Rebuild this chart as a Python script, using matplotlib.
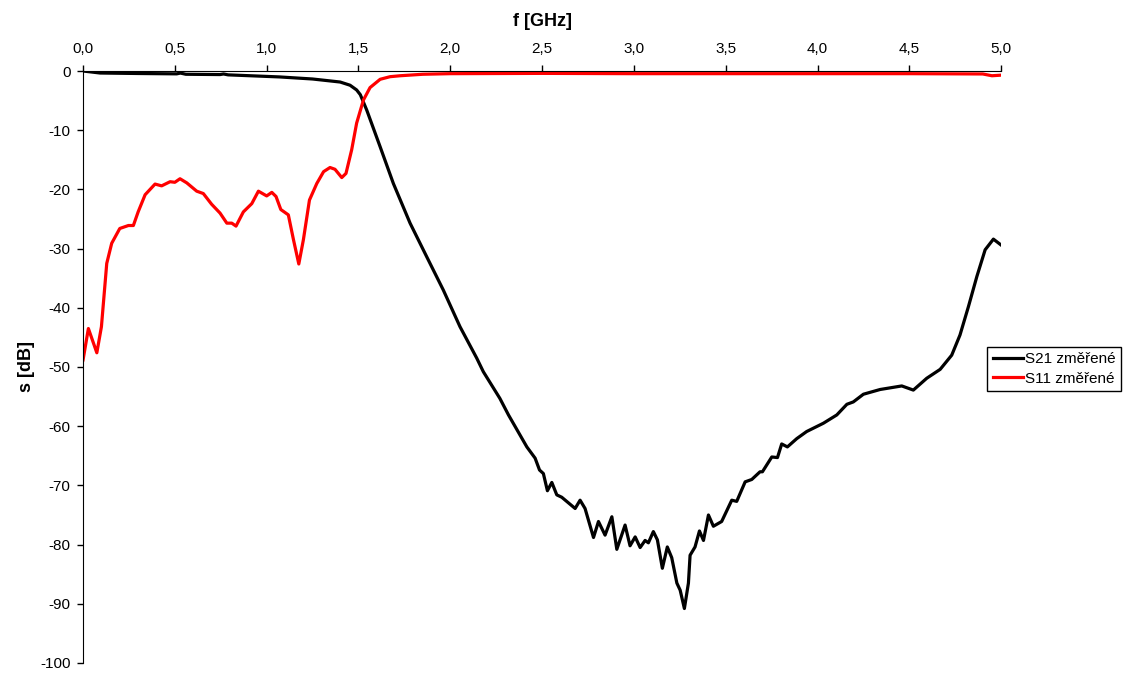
import numpy as np
import matplotlib
matplotlib.use("Agg")
import matplotlib.pyplot as plt

plt.rcParams['font.family'] = ['Liberation Sans', 'DejaVu Sans']
plt.rcParams['axes.unicode_minus'] = False

# S21 (measured) - frequency in GHz, value in dB
s21_f = [0.0, 0.093, 0.3, 0.51, 0.53, 0.56, 0.746, 0.765, 0.79, 1.07, 1.25, 1.40, 1.454, 1.49,
         1.51, 1.545, 1.618, 1.69, 1.781, 1.872, 1.962, 2.053, 2.144, 2.18, 2.27, 2.317, 2.417,
         2.462, 2.486, 2.507, 2.529, 2.553, 2.58, 2.607, 2.68, 2.707, 2.734, 2.78, 2.807, 2.843,
         2.88, 2.907, 2.952, 2.979, 3.007, 3.034, 3.061, 3.079, 3.106, 3.128, 3.155, 3.182,
         3.206, 3.234, 3.252, 3.275, 3.297, 3.306, 3.333, 3.357, 3.379, 3.406, 3.433, 3.478,
         3.533, 3.56, 3.606, 3.642, 3.687, 3.70, 3.751, 3.782, 3.805, 3.836, 3.887, 3.941,
         4.032, 4.105, 4.16, 4.195, 4.25, 4.341, 4.459, 4.522, 4.595, 4.668, 4.731, 4.776,
         4.822, 4.868, 4.913, 4.958, 5.0]
s21_db = [0.0, -0.34, -0.42, -0.48, -0.35, -0.55, -0.6, -0.5, -0.65, -1.0, -1.35, -1.86, -2.4, -3.2,
          -4.0, -6.6, -12.8, -19.0, -25.7, -31.4, -37.0, -43.2, -48.5, -50.8, -55.3, -58.1,
          -63.5, -65.4, -67.4, -68.0, -70.9, -69.5, -71.6, -72.0, -73.9, -72.5, -73.9, -78.8,
          -76.1, -78.4, -75.3, -80.8, -76.7, -80.2, -78.7, -80.5, -79.3, -79.7, -77.8, -79.2,
          -84.0, -80.4, -82.2, -86.5, -87.7, -90.8, -86.5, -81.8, -80.4, -77.7, -79.3, -75.0,
          -76.9, -76.1, -72.5, -72.7, -69.4, -69.0, -67.7, -67.7, -65.2, -65.3, -63.0, -63.5,
          -62.1, -60.9, -59.5, -58.1, -56.3, -55.9, -54.6, -53.8, -53.2, -53.9, -51.9, -50.4,
          -48.0, -44.6, -39.8, -34.7, -30.2, -28.4, -29.4]

# S11 (measured)
s11_f = [0.0, 0.029, 0.075, 0.10, 0.129, 0.156, 0.20, 0.247, 0.274, 0.30, 0.338, 0.392, 0.428,
         0.474, 0.50, 0.528, 0.565, 0.619, 0.655, 0.70, 0.746, 0.783, 0.81, 0.833, 0.873,
         0.919, 0.955, 1.0, 1.028, 1.051, 1.077, 1.118, 1.146, 1.175, 1.20, 1.233, 1.273,
         1.31, 1.345, 1.372, 1.409, 1.432, 1.463, 1.49, 1.527, 1.563, 1.618, 1.672, 1.727,
         1.85, 2.0, 2.5, 3.0, 3.5, 4.0, 4.5, 4.9, 4.95, 5.0]
s11_db = [-48.8, -43.5, -47.6, -43.2, -32.5, -29.1, -26.6, -26.1, -26.1, -23.8, -20.9, -19.1,
          -19.4, -18.7, -18.8, -18.2, -18.9, -20.3, -20.7, -22.5, -24.0, -25.7, -25.7, -26.2,
          -23.8, -22.4, -20.3, -21.1, -20.5, -21.2, -23.4, -24.3, -28.5, -32.6, -28.5, -21.8,
          -19.0, -17.0, -16.3, -16.6, -18.0, -17.3, -13.3, -8.8, -4.9, -2.8, -1.4, -0.96, -0.8,
          -0.55, -0.45, -0.4, -0.45, -0.45, -0.45, -0.45, -0.5, -0.8, -0.7]

x_ticks = [0.0, 0.5, 1.0, 1.5, 2.0, 2.5, 3.0, 3.5, 4.0, 4.5, 5.0]
x_labels = ["0,0", "0,5", "1,0", "1,5", "2,0", "2,5", "3,0", "3,5", "4,0", "4,5", "5,0"]
y_ticks = list(range(0, -101, -10))

fig = plt.figure(figsize=(11.27, 6.75), dpi=100)
ax = fig.add_axes([0.0737, 0.0178, 0.8146, 0.877])

ax.plot(s21_f, s21_db, color='black', lw=2.3, label='S21 změřené')
ax.plot(s11_f, s11_db, color='#ff0000', lw=2.3, label='S11 změřené')

ax.set_xlim(0, 5)
ax.set_ylim(-100, 0)
ax.xaxis.tick_top()
ax.xaxis.set_label_position('top')
ax.set_xticks(x_ticks)
ax.set_xticklabels(x_labels)
ax.set_yticks(y_ticks)
ax.tick_params(axis='both', labelsize=11, length=4, width=1, direction='out')
ax.tick_params(axis='x', pad=7)
ax.tick_params(axis='y', pad=5)
ax.spines['right'].set_visible(False)
ax.spines['bottom'].set_visible(False)
ax.set_xlabel('f [GHz]', fontsize=13, fontweight='bold', labelpad=11)
ax.set_ylabel('s [dB]', fontsize=13, fontweight='bold', labelpad=4)

leg = ax.legend(loc='upper left', bbox_to_anchor=(0.876, 0.486), bbox_transform=fig.transFigure,
                fontsize=11, frameon=True, fancybox=False, framealpha=1, edgecolor='black',
                handlelength=2.0, handletextpad=0.1, borderpad=0.35, labelspacing=0.35,
                borderaxespad=0)
leg.get_frame().set_linewidth(1)

plt.savefig('out.png', dpi=100)
